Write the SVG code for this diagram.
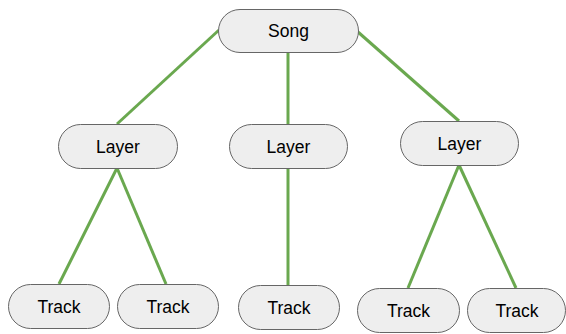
<svg xmlns="http://www.w3.org/2000/svg" width="566" height="334" viewBox="0 0 566 334">
<style>
.n rect{fill:#eeeeee;stroke:#666666;stroke-width:1}
.n text{font-family:"Liberation Sans",Arial,sans-serif;font-size:17.5px;fill:#000;text-anchor:middle;dominant-baseline:central}
#edges line{stroke:#6aa84f;stroke-width:3;stroke-linecap:butt}
</style>
<rect width="566" height="334" fill="#ffffff"/>
<g id="edges">
<line x1="219" y1="30" x2="117" y2="124"/>
<line x1="288" y1="52" x2="288" y2="124"/>
<line x1="358" y1="32" x2="459" y2="121"/>
<line x1="117" y1="168" x2="59" y2="284"/>
<line x1="117" y1="168" x2="166" y2="284"/>
<line x1="288" y1="168" x2="288" y2="285"/>
<line x1="459" y1="165" x2="408" y2="288"/>
<line x1="459" y1="165" x2="516" y2="288"/>
</g>
<g id="song" class="n"><rect x="218.5" y="9.5" width="140" height="43" rx="21.5"/><text x="288.5" y="31">Song</text></g>
<g id="layer1" class="n"><rect x="58.5" y="124.5" width="119" height="44" rx="22"/><text x="118" y="146.5">Layer</text></g>
<g id="layer2" class="n"><rect x="229.5" y="124.5" width="118" height="44" rx="22"/><text x="288.5" y="146.5">Layer</text></g>
<g id="layer3" class="n"><rect x="400.5" y="121.5" width="118" height="44" rx="22"/><text x="459.5" y="143.5">Layer</text></g>
<g id="track1" class="n"><rect x="8.5" y="284.5" width="101" height="44" rx="22"/><text x="59" y="306.5">Track</text></g>
<g id="track2" class="n"><rect x="117.5" y="284.5" width="101" height="44" rx="22"/><text x="168" y="306.5">Track</text></g>
<g id="track3" class="n"><rect x="238.5" y="285.5" width="101" height="44" rx="22"/><text x="289" y="307.5">Track</text></g>
<g id="track4" class="n"><rect x="357.5" y="288.5" width="102" height="44" rx="22"/><text x="408.5" y="310.5">Track</text></g>
<g id="track5" class="n"><rect x="467.5" y="288.5" width="98" height="44" rx="22"/><text x="517" y="310.5">Track</text></g>
</svg>
